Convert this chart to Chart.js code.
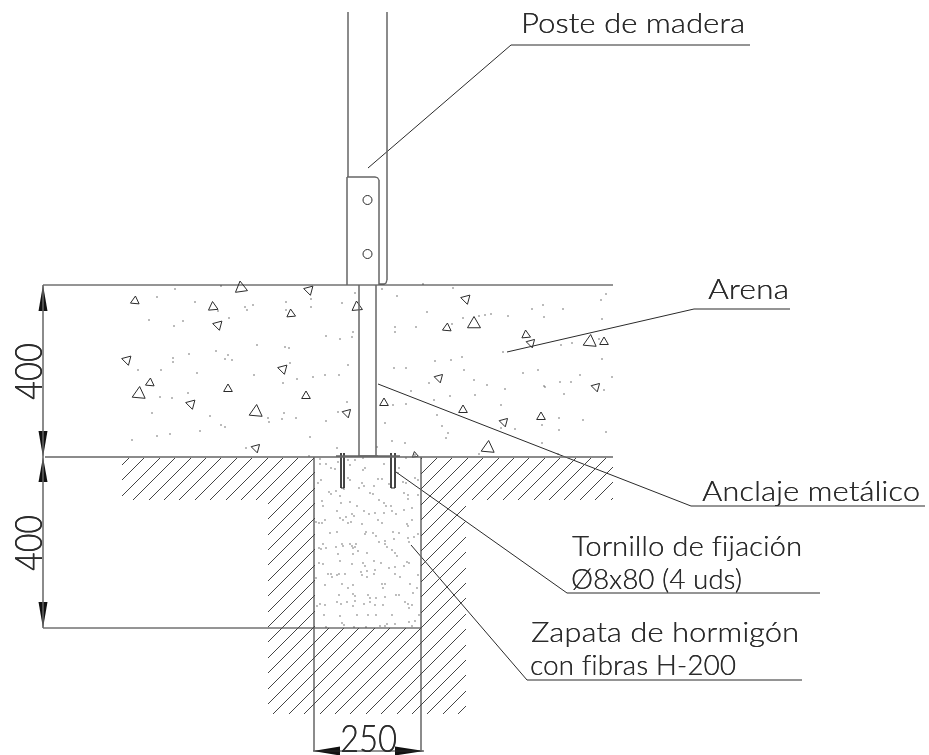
<!DOCTYPE html>
<html>
<head>
<meta charset="utf-8">
<title>Zapata de poste</title>
<script src="https://cdn.jsdelivr.net/npm/chart.js@4/dist/chart.umd.min.js"></script>
<style>
	html, body { margin: 0; padding: 0; background: #fff; overflow: hidden; }
	canvas { display: block; }
</style>
</head>
<body>
<canvas id="drawing" width="929" height="755"></canvas>
<script>
const outlineSegments = [
	[45, 285, 613, 285], [43, 285, 45, 285], [43, 628, 421, 628], [341, 453, 341, 488], [344, 453, 344, 488],
	[391, 453, 391, 488], [395, 453, 395, 488], [341, 488, 344, 488], [391, 488, 395, 488],
	[313, 751, 424, 751], [358, 456, 378, 456],
];
const heavySegments = [
	[348, 12, 348, 177], [387, 12, 387, 280], [347, 177, 347, 285], [379, 180, 379, 285],
	[359, 285, 359, 456], [376, 285, 376, 456], [43, 285, 43, 628],
	[45, 457, 613, 457], [314, 457, 314, 751], [421, 457, 421, 751], [336, 456, 400, 456],
];
const bracketCorner = [[347, 177], [375, 177], [377.5, 177.7], [379, 180]];
const postFoot = [[379, 284], [384, 284], [386, 283], [387, 280]];
const leaderLines = [
	[[368, 168], [511, 45], [750, 45]],
	[[507, 352], [694, 309], [790, 309]],
	[[378, 384], [691, 506], [925, 506]],
	[[396, 472], [567, 593], [820, 593]],
	[[411, 545], [527, 680], [802, 680]],
];
const hatchSegments = [
	[122, 465, 129, 458], [122, 480, 144, 458], [122, 496, 160, 458], [133, 500, 175, 458],
	[149, 500, 191, 458], [164, 500, 206, 458], [179, 500, 221, 458], [195, 500, 237, 458],
	[210, 500, 252, 458], [226, 500, 268, 458], [241, 500, 283, 458], [256, 500, 298, 458],
	[268, 504, 314, 458], [268, 519, 315, 472], [268, 535, 315, 488], [268, 550, 315, 503],
	[268, 565, 315, 518], [268, 581, 315, 534], [268, 596, 315, 549], [268, 612, 315, 565],
	[268, 627, 315, 580], [268, 642, 315, 595], [268, 658, 315, 611], [268, 673, 315, 626],
	[268, 689, 329, 628], [268, 704, 344, 628], [273, 714, 359, 628], [289, 714, 375, 628],
	[304, 714, 390, 628], [320, 714, 406, 628], [335, 714, 421, 628], [350, 714, 466, 598],
	[366, 714, 466, 614], [381, 714, 466, 629], [397, 714, 466, 645], [412, 714, 466, 660],
	[427, 714, 466, 675], [443, 714, 466, 691], [458, 714, 466, 706],
	[421, 459, 422, 458], [421, 474, 437, 458], [421, 489, 452, 458], [421, 505, 468, 458],
	[421, 520, 483, 458], [421, 536, 499, 458], [421, 551, 466, 506], [421, 566, 466, 521],
	[421, 582, 466, 537], [421, 597, 466, 552], [421, 613, 466, 568], [421, 628, 466, 583],
	[472, 500, 514, 458], [487, 500, 529, 458], [503, 500, 545, 458], [518, 500, 560, 458],
	[534, 500, 576, 458], [549, 500, 591, 458], [564, 500, 606, 458], [580, 500, 613, 467],
	[595, 500, 613, 482], [611, 500, 613, 498],
];
const arrowHeads = [
	[[43, 285], [38.5, 311], [47.5, 311]],
	[[43, 457], [38.5, 431], [47.5, 431]],
	[[43, 457], [38.5, 482], [47.5, 482]],
	[[43, 628], [38.5, 602], [47.5, 602]],
	[[313, 751], [340, 746.5], [340, 755.5]],
	[[424, 751], [395, 746.5], [395, 755.5]],
];
const holes = [[367.5, 200], [367.5, 254]];
// x, y, size, turn in degrees
const sandStones = [
	[241, 288, 7, -8], [309, 290, 5.5, -75], [135, 301, 5, 5], [213, 307, 5.5, -5], [357, 307, 6, -5],
	[291, 314, 5, -5], [218, 325, 5.5, -75], [127, 360, 5.5, -75], [283, 369, 5.5, -75], [150, 383, 5, 5],
	[139, 394, 7.5, 5], [228, 389, 5, 0], [306, 396, 5, 0], [191, 404, 5.5, -75], [256, 412, 7.5, 5],
	[347, 413, 5, -75], [256, 448, 5, -75], [466, 299, 5.5, -75], [447, 328, 5, 5], [474, 324, 7.5, 0],
	[526, 335, 5, -5], [531, 343, 5, -75], [590, 342, 7.5, 5], [604, 342, 5, 0], [439, 378, 5, -75],
	[596, 387, 5, -75], [384, 403, 5, 0], [463, 410, 5, 0], [504, 422, 5, -75], [541, 417, 5, 0],
	[488, 448, 7.5, 5], [415, 455, 3.5, -10],
];
const sandDots = [
	[157, 297], [175, 289], [195, 302], [221, 286], [245, 307], [247, 310], [253, 305], [286, 302], [286, 310],
	[311, 299], [311, 307], [342, 303], [355, 293], [149, 320], [174, 326], [183, 321], [229, 318], [218, 311],
	[326, 336], [340, 339], [353, 332], [352, 337], [257, 345], [285, 347], [289, 348], [216, 351], [189, 354],
	[173, 358], [173, 362], [228, 355], [225, 359], [232, 360], [290, 363], [348, 365], [138, 370], [161, 370],
	[197, 373], [254, 375], [325, 375], [339, 375], [313, 377], [297, 379], [283, 383], [188, 393], [160, 397],
	[172, 398], [347, 402], [338, 412], [152, 413], [210, 416], [284, 413], [268, 418], [269, 422], [282, 419],
	[296, 418], [326, 421], [221, 425], [225, 427], [200, 431], [157, 436], [170, 434], [132, 440], [310, 437],
	[246, 448], [337, 448], [309, 456], [382, 289], [397, 296], [423, 284], [453, 288], [427, 312], [463, 318],
	[479, 316], [485, 315], [491, 314], [508, 316], [532, 309], [543, 305], [544, 317], [563, 309], [601, 300],
	[606, 294], [602, 319], [395, 327], [395, 332], [416, 327], [452, 324], [503, 352], [561, 345], [572, 343],
	[599, 339], [435, 361], [451, 360], [462, 357], [602, 359], [394, 368], [406, 368], [464, 370], [523, 373],
	[538, 370], [580, 375], [612, 377], [429, 383], [474, 380], [487, 385], [505, 389], [544, 386], [545, 387],
	[560, 382], [571, 382], [564, 394], [604, 390], [411, 391], [450, 396], [475, 395], [434, 400], [393, 405],
	[406, 404], [501, 405], [437, 415], [559, 418], [583, 420], [385, 423], [442, 426], [542, 425], [515, 429],
	[501, 428], [559, 430], [606, 432], [448, 433], [446, 438], [392, 441], [405, 443], [542, 443], [377, 447],
	[479, 454], [558, 454],
];
const concreteDots = [
	[320, 459], [320, 464], [326, 464], [331, 468], [335, 469], [338, 462], [348, 460], [355, 460], [363, 458],
	[384, 464], [365, 468], [363, 470], [350, 465], [399, 468], [406, 458], [415, 455], [398, 473], [348, 478],
	[350, 480], [321, 480], [318, 483], [378, 479], [382, 479], [389, 484], [403, 482], [406, 483], [415, 478],
	[418, 480], [362, 483], [364, 486], [359, 488], [374, 486], [344, 489], [329, 492], [336, 491], [331, 494],
	[340, 496], [370, 493], [373, 494], [404, 493], [408, 495], [418, 495], [408, 499], [379, 500], [322, 501],
	[323, 506], [341, 503], [350, 502], [384, 503], [386, 506], [391, 506], [357, 506], [337, 511], [364, 511],
	[369, 514], [375, 513], [384, 513], [392, 511], [396, 514], [404, 510], [412, 508], [352, 514], [354, 516],
	[340, 518], [346, 517], [343, 520], [351, 522], [348, 523], [325, 520], [322, 523], [316, 522], [319, 523],
	[378, 520], [382, 523], [362, 524], [407, 524], [412, 520], [408, 526], [330, 533], [337, 532], [366, 532],
	[365, 534], [373, 533], [376, 536], [393, 532], [399, 533], [418, 534], [414, 537], [408, 538], [394, 539],
	[379, 542], [385, 541], [385, 544], [409, 542], [323, 544], [319, 548], [321, 549], [326, 548], [336, 547],
	[342, 544], [343, 546], [350, 544], [356, 544], [352, 546], [355, 547], [353, 548], [387, 547], [392, 550],
	[358, 551], [338, 554], [353, 554], [367, 553], [395, 553], [397, 556], [340, 561], [374, 561], [319, 563],
	[323, 564], [352, 564], [363, 563], [365, 566], [381, 563], [407, 562], [409, 563], [389, 568], [395, 567],
	[404, 566], [375, 570], [361, 572], [367, 571], [374, 574], [328, 574], [331, 574], [332, 577], [337, 575],
	[339, 574], [345, 574], [362, 575], [367, 577], [395, 574], [400, 577], [418, 575], [316, 578], [342, 584],
	[325, 585], [353, 585], [348, 588], [382, 584], [385, 584], [383, 588], [410, 584], [417, 588], [353, 594],
	[355, 596], [339, 595], [368, 595], [385, 597], [396, 595], [399, 595], [413, 593], [370, 598], [376, 598],
	[355, 601], [337, 602], [341, 604], [347, 602], [370, 602], [405, 602], [320, 604], [317, 606], [325, 605],
	[364, 604], [375, 605], [383, 605], [353, 606], [408, 604], [412, 605], [409, 608], [324, 615], [340, 616],
	[357, 615], [368, 615], [376, 615], [392, 615], [419, 615], [342, 623], [344, 625], [380, 626], [385, 626],
	[387, 624], [395, 624], [409, 622], [415, 621], [412, 626], [326, 627], [354, 627], [366, 627],
];
const labelTexts = [
	"Poste de madera", "Arena", "Anclaje metálico", "Tornillo de fijación",
	"Ø8x80 (4 uds)", "Zapata de hormigón", "con fibras H-200", "250",
];
const labelAnchors = [
	[521, 33], [708, 299], [702, 501], [572, 556], [571, 589], [531, 642], [530, 675], [340, 752],
];
const labelWidths = [224, 81, 218, 230, 171, 268, 206, 57];
const dimensionTexts = ["400", "400"];
const dimensionAnchors = [[42, 400], [42, 571]];
const dimensionWidths = [57, 56];

const inkColor = "#2a2a2a";
const heavyColor = "#666";

function segmentPoints(segments) {
	const points = [];
	segments.forEach(function (s) {
		points.push({ x: s[0], y: s[1] }, { x: s[2], y: s[3] }, { x: null, y: null });
	});
	return points;
}

function pairPoints(pairs) {
	return pairs.map(function (p) {
		return { x: p[0], y: p[1] };
	});
}

function lineSet(data, color, width) {
	return {
		data: data,
		showLine: true,
		spanGaps: false,
		borderColor: color,
		borderWidth: width,
		pointRadius: 0,
		fill: false,
	};
}

function dotSet(pairs, radius) {
	return {
		data: pairPoints(pairs),
		showLine: false,
		pointRadius: radius,
		pointBorderWidth: 0,
		pointBackgroundColor: "#444",
	};
}

function drawFitted(ctx, text, size, width) {
	ctx.font = `300 ${size}px Lato, "Open Sans", sans-serif`;
	ctx.letterSpacing = "0.1px";
	const natural = ctx.measureText(text).width;
	ctx.scale(width / natural, 1);
	ctx.fillText(text, 0, 0);
	ctx.fillText(text, 0.25, 0);
}

const labelPlugin = {
	id: "drawingLabels",
	afterDraw: function (chart) {
		const ctx = chart.ctx;
		const x = chart.scales.x;
		const y = chart.scales.y;
		ctx.save();
		ctx.fillStyle = "#2c2c2c";
		ctx.textAlign = "left";
		ctx.textBaseline = "alphabetic";
		labelTexts.forEach(function (text, i) {
			ctx.save();
			ctx.translate(x.getPixelForValue(labelAnchors[i][0]), y.getPixelForValue(labelAnchors[i][1]));
			drawFitted(ctx, text, text === "250" ? 37 : 28, labelWidths[i]);
			ctx.restore();
		});
		dimensionTexts.forEach(function (text, i) {
			ctx.save();
			ctx.translate(x.getPixelForValue(dimensionAnchors[i][0]), y.getPixelForValue(dimensionAnchors[i][1]));
			ctx.rotate(-Math.PI / 2);
			drawFitted(ctx, text, 37, dimensionWidths[i]);
			ctx.restore();
		});
		ctx.restore();
	},
};

const datasets = [
	lineSet(segmentPoints(hatchSegments), "#444", 1),
	lineSet(segmentPoints(heavySegments), heavyColor, 1.5),
	lineSet(segmentPoints(outlineSegments), inkColor, 1),
	lineSet(pairPoints(bracketCorner), heavyColor, 1.3),
	lineSet(pairPoints(postFoot), heavyColor, 1.3),
	dotSet(sandDots, 0.7),
	dotSet(concreteDots, 0.65),
	{
		data: pairPoints(sandStones),
		showLine: false,
		pointStyle: "triangle",
		pointRadius: sandStones.map((s) => s[2]),
		rotation: sandStones.map((s) => s[3]),
		pointBorderWidth: 1,
		pointBorderColor: inkColor,
		pointBackgroundColor: "rgba(255,255,255,0)",
	},
	{
		data: pairPoints(holes),
		showLine: false,
		pointStyle: "circle",
		pointRadius: 4.5,
		pointBorderWidth: 1,
		pointBorderColor: inkColor,
		pointBackgroundColor: "rgba(255,255,255,0)",
	},
];
leaderLines.forEach(function (leader) {
	datasets.push(lineSet(pairPoints(leader), inkColor, 1));
});
arrowHeads.forEach(function (head) {
	const closed = head.concat([head[0]]);
	datasets.push({
		data: pairPoints(closed),
		showLine: true,
		borderWidth: 0,
		borderColor: "#111",
		backgroundColor: "#111",
		pointRadius: 0,
		fill: "shape",
	});
});

new Chart(document.getElementById("drawing").getContext("2d"), {
	type: "scatter",
	data: { datasets: datasets },
	options: {
		responsive: false,
		animation: false,
		clip: false,
		layout: { padding: 0, autoPadding: false },
		scales: {
			x: { type: "linear", min: 0, max: 929, display: false },
			y: { type: "linear", min: 0, max: 755, reverse: true, display: false },
		},
		plugins: {
			legend: { display: false },
			tooltip: { enabled: false },
		},
	},
	plugins: [labelPlugin],
});
</script>
</body>
</html>
